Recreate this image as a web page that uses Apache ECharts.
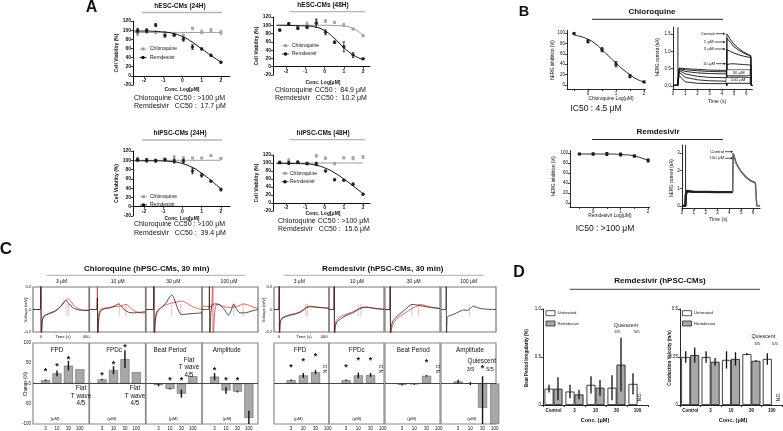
<!DOCTYPE html>
<html>
<head>
<meta charset="utf-8">
<script src="https://cdn.jsdelivr.net/npm/echarts@6.0.0/dist/echarts.min.js"></script>
<style>html,body{margin:0;padding:0;background:#fff;}#chart{width:783px;height:431px;}</style>
</head>
<body>
<div id="chart"></div>
<script>
// ================= DATA =================
// ---- Panel A : cell viability ----
const logConc = [-2.33,-1.86,-1.39,-0.91,-0.43,0.05,0.52,1.00,1.48,2.00];
const fitLog  = [-2.5,-2,-1.5,-1,-0.5,0,0.5,1,1.5,2];
const aTickLabels = [-2,-1,0,1,2];
const aTitles = ['hESC-CMs (24H)','hESC-CMs (48H)','hiPSC-CMs (24H)','hiPSC-CMs (48H)'];
const aCqText  = ['Chloroquine CC50 : >100 μM','Chloroquine CC50 :  84.9 μM','Chloroquine CC50 : >100 μM','Chloroquine CC50 : >100 μM'];
const aRdvText = ['Remdesivir   CC50 :  17.7 μM','Remdesivir   CC50 :  10.2 μM','Remdesivir   CC50 :  39.4 μM','Remdesivir   CC50 :  15.6 μM'];

const hesc24Cq     = [93,97,95,93,92,88,104,96,100,95];
const hesc24CqErr  = [5,4,3,4,3,4,2,4,4,5];
const hesc24Rdv    = [99,99,111,88,89,80,63,59,45,30];
const hesc24RdvErr = [5,4,3,3,2,4,5,2,2,2];
const hesc24CqFit  = [95,95,95,95,95,95,95,95,95,95];
const hesc24RdvFit = [98,98,97.5,96,93,86,74,59,44,30];

const hesc48Cq     = [90,103,95,103,108,110,107,101,91,75];
const hesc48CqErr  = [2,3,3,5,6,3,2,4,2,2];
const hesc48Rdv    = [88,104,93,95,105,83,59,48,28,19];
const hesc48RdvErr = [2,2,3,3,10,6,3,12,6,1];
const hesc48CqFit  = [100,100,100,100,100,100,99.5,98,92,76];
const hesc48RdvFit = [100,100,99,98.5,96,87,69,46,28,17];

const hipsc24Cq     = [104,100,100,103,106,104,105,105,110,104];
const hipsc24CqErr  = [3,3,2,2,4,4,1,1,1,1];
const hipsc24Rdv    = [101,100,99,101,98,98,77,68,55,37];
const hipsc24RdvErr = [3,4,3,2,4,4,6,4,1,3];
const hipsc24CqFit  = [100,100,100,100,100,100,100,100,100,100];
const hipsc24RdvFit = [99,99,99,98.5,97,93,85,72,56,38];

const hipsc48Cq     = [100,106,103,100,118,112,98,113,112,115];
const hipsc48CqErr  = [2,5,2,2,3,3,1,2,4,3];
const hipsc48Rdv    = [102,100,102,98,98,80,58,57,47,22];
const hipsc48RdvErr = [2,4,2,2,4,2,2,2,3,2];
const hipsc48CqFit  = [100,100,100,100,100,100,100,100,100,100];
const hipsc48RdvFit = [99,99,98.5,98,95,88,76,60,42,23];

// ---- Panel B : hERG ----
const hergLog    = [-0.5,0,0.5,1,1.5,2];
const hergCq     = [99,84,68,40,17,6];
const hergCqErr  = [1,3,4,5,3,1];
const hergCqFitX = [-0.5,-0.25,0,0.25,0.5,0.75,1,1.25,1.5,1.75,2];
const hergCqFit  = [96,93,88,80,68,55,42,30,20,11,6];
const hergRdv    = [98,98,98,97,94,85];
const hergRdvErr = [1,2,3,3,2,3];
const hergXTicks = [0,1,2];
const hergYTicks = [0,20,40,60,80,100];

const cqStepT = [0.5,1,2,3,4.38];
const cqTailT = [4.42,4.7,5.0,5.4,5.8,6.2,6.38];
const cqTraceNames = ['Control','1 μM','3 μM','10 μM','30 μM','100 μM'];
const cqStepI = [[0.52,0.50,0.48,0.46,0.45],[0.50,0.47,0.44,0.42,0.41],[0.48,0.42,0.38,0.36,0.35],[0.45,0.35,0.28,0.25,0.24],[0.40,0.25,0.18,0.15,0.14],[0.30,0.12,0.08,0.07,0.07]];
const cqTailI = [[1.50,1.35,1.20,1.08,0.98,0.91,0.88],[1.38,1.26,1.13,1.03,0.95,0.88,0.85],[1.05,1.00,0.95,0.90,0.86,0.83,0.82],[0.62,0.64,0.64,0.63,0.62,0.61,0.60],[0.25,0.26,0.26,0.26,0.26,0.25,0.25],[0.08,0.08,0.08,0.08,0.08,0.08,0.08]];
const cqArtifact = [[0.4,0,1.7]];

const rdvStepT = [0.4,1,2,3,4.28];
const rdvTailT = [4.32,4.6,5.0,5.4,5.8,6.2,6.3];
const rdvTraceNames = ['Control','100 μM'];
const rdvStepI = [[0.85,0.80,0.80,0.79,0.79],[0.84,0.79,0.79,0.78,0.78]];
const rdvTailI = [[3.00,2.40,1.95,1.65,1.45,1.32,1.27],[2.95,2.36,1.92,1.62,1.42,1.29,1.24]];
const rdvArtifact = [[0.3,0,3.45]];

// ---- Panel C : MEA ----
const cConcLabels = ['3 μM','10 μM','30 μM','100 μM'];
const cCats = ['3','10','30','100'];
const cqTraceBlack = [
 [[-70,0],[-5,0],[0,0.3],[4,-0.3],[12,-0.1],[30,-0.06],[80,-0.035],[120,-0.02],[150,0],[180,0.03],[205,0.065],[225,0.08],[250,0.05],[280,0.02],[320,0.0],[380,-0.008],[430,-0.01]],
 [[-70,0],[-5,0],[0,0.1],[4,-0.3],[10,-0.12],[25,-0.02],[60,0.005],[120,0.015],[160,0.035],[190,0.05],[215,0.03],[245,-0.005],[280,-0.025],[320,-0.03],[380,-0.025],[430,-0.02]],
 [[-70,0],[-5,0],[0,0.3],[4,-0.3],[12,-0.12],[30,-0.02],[70,0.02],[110,0.06],[140,0.11],[160,0.13],[180,0.1],[205,0.03],[230,-0.03],[255,-0.045],[300,-0.04],[360,-0.035],[430,-0.03]],
 [[-70,0],[-8,0],[-4,0.3],[0,-0.3],[8,-0.05],[20,0.04],[50,0.05],[90,0.04],[130,0.0],[165,-0.05],[190,-0.01],[213,0.05],[235,0.01],[270,-0.03],[310,-0.03],[370,-0.015],[430,0.0]]
];
const cqTraceRed = [
 [[-70,0],[-5,0],[0,0.3],[4,-0.3],[12,-0.1],[30,-0.055],[80,-0.03],[120,-0.015],[150,0.005],[190,0.04],[220,0.08],[245,0.095],[270,0.07],[300,0.03],[340,0.005],[390,-0.005],[430,-0.005]],
 [[-70,0],[-5,0],[0,0.3],[4,-0.3],[10,-0.06],[30,0.0],[80,0.015],[140,0.025],[200,0.03],[235,0.04],[255,0.045],[280,0.03],[310,0.0],[350,-0.02],[400,-0.03],[430,-0.03]],
 [[-70,0],[-5,0],[0,0.3],[4,-0.3],[12,-0.08],[30,-0.01],[70,0.02],[120,0.045],[170,0.06],[220,0.07],[250,0.075],[280,0.065],[320,0.04],[370,0.015],[430,0.0]],
 [[-70,0.03],[10,0.025],[25,0.3],[30,-0.3],[38,-0.1],[50,0.02],[65,0.05],[100,0.035],[150,0.02],[200,0.02],[250,0.03],[297,0.05],[340,0.04],[390,0.02],[430,0.01]]
];
const cqMarkBlack = [225,196,160,213];
const cqMarkRed   = [245,255,240,297];

const rdvTraceBlack = [
 [[-45,0],[-3,0],[0,0.3],[3,-0.3],[8,-0.12],[25,-0.08],[80,-0.055],[140,-0.04],[180,-0.025],[215,0.0],[240,0.02],[270,0.025],[320,0.02],[380,0.015],[430,0.01]],
 [[-45,0],[-3,0],[0,0.3],[3,-0.3],[8,-0.16],[25,-0.11],[60,-0.08],[110,-0.05],[160,-0.03],[200,-0.005],[240,0.015],[280,0.02],[330,0.012],[380,0.005],[430,0.0]],
 [[-45,0],[-3,0],[0,0.3],[3,-0.3],[8,-0.16],[25,-0.1],[60,-0.06],[100,-0.025],[140,0.01],[175,0.04],[200,0.045],[240,0.038],[290,0.028],[350,0.018],[430,0.008]],
 [[-45,0],[-3,0],[0,0.3],[3,-0.3],[8,-0.07],[30,-0.055],[70,-0.04],[110,-0.02],[150,-0.005],[180,-0.008],[210,0.01],[235,0.03],[260,0.02],[300,0.008],[360,0.002],[430,0.0]]
];
const rdvTraceRed = [
 [[-45,0],[-3,0],[0,0.3],[3,-0.3],[8,-0.11],[25,-0.075],[80,-0.05],[140,-0.035],[180,-0.02],[215,0.005],[245,0.025],[275,0.028],[320,0.022],[380,0.017],[430,0.012]],
 [[-45,0],[-3,0],[0,0.3],[3,-0.3],[8,-0.13],[25,-0.09],[60,-0.06],[110,-0.04],[160,-0.02],[200,0.0],[240,0.02],[280,0.022],[330,0.015],[380,0.008],[430,0.003]],
 [[-45,0],[-3,0],[0,0.3],[3,-0.3],[8,-0.19],[25,-0.13],[60,-0.08],[100,-0.05],[150,-0.015],[200,0.015],[240,0.035],[265,0.045],[300,0.035],[360,0.02],[430,0.01]],
 null
];
const rdvMarkBlack = [228,207,187,200];
const rdvMarkRed   = [243,231,246,null];

const cBarTitles = ['FPD','FPDc','Beat Period','Amplitude'];
const cqBars = [[8,25,44,35],[10,33,60,28],[-4,-13,-25,18],[17,-17,-20,-85]];
const cqErrs = [[2,7,12,0],[2,10,22,0],[3,2,10,0],[9,8,2,18]];
const cqStars = [[34,46,63,null],[24,52,95,null],[null,12,12,null],[36,12,12,null]];
const rdvBars = [[8,20,28,null],[8,20,21,null],[-3,-2,19,null],[5,0,-60,-100]];
const rdvErrs = [[2,6,5,0],[2,7,5,0],[2,1,2,0],[4,4,78,0]];
const rdvStars = [[44,58,71,null],[44,61,61,null],[null,null,56,null],[null,null,41,null]];

// ---- Panel D ----
const dCats = ['Control','3','10','30','100'];
const bpiUntreated    = [0.17,0.14,0.21,0.18,0.22];
const bpiUntreatedErr = [0.04,0.07,0.09,0.13,0.11];
const bpiRdv          = [0.17,0.11,0.18,0.42,null];
const bpiRdvErr       = [0.12,0.05,0.08,0.28,null];
const cvUntreated     = [0.25,0.25,0.235,0.265,0.24];
const cvUntreatedErr  = [0.03,0.03,0.045,0.006,0.03];
const cvRdv           = [0.26,0.225,0.24,0.23,null];
const cvRdvErr        = [0.04,0.02,0.035,0.004,null];

// ================= BUILD =================
const F = "'Liberation Sans', Arial, Helvetica, sans-serif";
const grids=[], xAxes=[], yAxes=[], series=[], G=[];
const PI2 = Math.PI/2;
function addPanel(g, xa, ya){ const i=grids.length; grids.push(g); xa.gridIndex=i; ya.gridIndex=i; xAxes.push(xa); yAxes.push(ya); return i; }
function txt(x,y,s,o){ o=o||{}; G.push({type:'text', x:x, y:y, rotation:o.rot||0, z:50, silent:true,
  style:{text:s, fill:o.color||'#111', fontSize:o.size||6, fontWeight:o.bold?'bold':'normal', fontFamily:F,
  textAlign:o.align||'center', textVerticalAlign:'middle', verticalAlign:'middle'}}); }
function seg(x1,y1,x2,y2,c,w){ G.push({type:'line', z:50, silent:true, shape:{x1:x1,y1:y1,x2:x2,y2:y2}, style:{stroke:c||'#111', lineWidth:w||1}}); }
function rect(x,y,w,h,fill,stroke,lw){ G.push({type:'rect', z:50, silent:true, shape:{x:x,y:y,width:w,height:h}, style:{fill:fill, stroke:stroke||'#111', lineWidth:lw||0.8}}); }
function dot(cx,cy,r,fill){ G.push({type:'circle', z:50, silent:true, shape:{cx:cx,cy:cy,r:r}, style:{fill:fill}}); }
function arrow(x1,x2,y){ seg(x1,y,x2-1.5,y,'#111',0.7); G.push({type:'polygon', z:50, silent:true, shape:{points:[[x2,y],[x2-2.2,y-1.3],[x2-2.2,y+1.3]]}, style:{fill:'#111'}}); }

function axLine(show, w){ return {show:show!==false, onZero:false, lineStyle:{color:'#111', width:w||1}}; }
function axTick(show, vals, len){ return {show:show!==false, length:len||2, customValues:vals||undefined, lineStyle:{color:'#111', width:0.8}}; }
function axLab(show, size, vals, fmt, bold, margin){ const o={show:show!==false, fontSize:size||5, fontFamily:F, color:'#111', fontWeight:bold?'bold':'normal', margin:margin==null?2:margin}; if(vals) o.customValues=vals; if(fmt) o.formatter=fmt; return o; }
const noSplit = {show:false};
const pairs = (xs, ys) => xs.map((x,k)=>[x, ys[k]]).filter(d=>d[1]!=null);

function lineS(i, data, color, width, smooth, z){ series.push({type:'line', xAxisIndex:i, yAxisIndex:i, data:data, symbol:'none', showSymbol:false, smooth:smooth||false, lineStyle:{color:color, width:width}, silent:true, z:z||2, clip:true}); }
function dotS(i, data, symbol, size, color, z){ series.push({type:'scatter', xAxisIndex:i, yAxisIndex:i, data:data, symbol:symbol, symbolSize:size, itemStyle:{color:color}, silent:true, z:z||4}); }
function errS(i, data, color, width, cap, offset, z){
  series.push({type:'custom', xAxisIndex:i, yAxisIndex:i, data:data, silent:true, z:z||3,
    renderItem:function(p, api){
      const x=api.value(0), a=api.coord([x, api.value(1)]), b=api.coord([x, api.value(2)]);
      const cx=a[0]+(offset||0);
      const ch=[{type:'line', shape:{x1:cx,y1:a[1],x2:cx,y2:b[1]}, style:{stroke:color, lineWidth:width}}];
      if(cap){ ch.push({type:'line', shape:{x1:cx-cap,y1:a[1],x2:cx+cap,y2:a[1]}, style:{stroke:color,lineWidth:width}});
               ch.push({type:'line', shape:{x1:cx-cap,y1:b[1],x2:cx+cap,y2:b[1]}, style:{stroke:color,lineWidth:width}}); }
      return {type:'group', children:ch};
    }});
}
function starS(i, data){
  series.push({type:'custom', xAxisIndex:i, yAxisIndex:i, data:data, silent:true, z:6,
    renderItem:function(p, api){ const c=api.coord([api.value(0), api.value(1)]);
      return {type:'text', x:c[0], y:c[1]+2, style:{text:'*', fontSize:9, fontWeight:'bold', fontFamily:F, fill:'#111', textAlign:'center', textVerticalAlign:'middle', verticalAlign:'middle'}}; }});
}
const nameStyle = (s,b)=>({fontSize:s, fontWeight:b?'bold':'normal', fontFamily:F, color:'#111'});

// ---------- Panel A ----------
txt(91.5, 8, 'A', {size:16, bold:true});
const aLayout = [
 {left:133, top:21, width:97, height:64, xmin:-2.57, xmax:2.47, tx:180, ty:6, ul:[142,222,12.5], lx:134, ly:[98,106.3], lg:[143,150,49,57.5], nx:182, ny:90},
 {left:273, top:17, width:97, height:58, xmin:-2.68, xmax:2.36, tx:323, ty:5.5, ul:[290,365,11.7], lx:275, ly:[90,98.3], lg:[285.5,292,45.7,54], nx:323, ny:82.5},
 {left:133, top:151, width:97, height:65, xmin:-2.57, xmax:2.47, tx:180, ty:133.3, ul:[142,222,140], lx:134, ly:[224.3,232.7], lg:[143.5,150,196.7,205], nx:182, ny:219},
 {left:273, top:155, width:97, height:56, xmin:-2.68, xmax:2.36, tx:323, ty:133, ul:[290,365,139.7], lx:278, ly:[221,229.3], lg:[285,290,173.3,181.7], nx:323, ny:214}
];
const aSets = [
 {cq:hesc24Cq, cqE:hesc24CqErr, rdv:hesc24Rdv, rdvE:hesc24RdvErr, cqFit:hesc24CqFit, rdvFit:hesc24RdvFit},
 {cq:hesc48Cq, cqE:hesc48CqErr, rdv:hesc48Rdv, rdvE:hesc48RdvErr, cqFit:hesc48CqFit, rdvFit:hesc48RdvFit},
 {cq:hipsc24Cq, cqE:hipsc24CqErr, rdv:hipsc24Rdv, rdvE:hipsc24RdvErr, cqFit:hipsc24CqFit, rdvFit:hipsc24RdvFit},
 {cq:hipsc48Cq, cqE:hipsc48CqErr, rdv:hipsc48Rdv, rdvE:hipsc48RdvErr, cqFit:hipsc48CqFit, rdvFit:hipsc48RdvFit}
];
const GREY='#9a9a9a';
aLayout.forEach(function(L,k){
  const d=aSets[k];
  const zeroOffset = -20 * L.height / 140;   // x axis crosses the y axis at 0
  const i=addPanel({left:L.left, top:L.top, width:L.width, height:L.height},
    {type:'value', min:L.xmin, max:L.xmax, offset:zeroOffset, axisLine:{show:true, onZero:false, lineStyle:{color:'#111', width:1}},
     axisTick:axTick(true, aTickLabels, 2), axisLabel:axLab(true, 5, aTickLabels, null, true, 2.5), splitLine:noSplit},
    {type:'value', min:-20, max:120, interval:20, axisLine:axLine(true,1), axisTick:axTick(true,null,2),
     axisLabel:axLab(true,5,null,null,true,2), splitLine:noSplit,
     name:'Cell Viability (%)', nameLocation:'middle', nameGap:10, nameRotate:90, nameTextStyle:nameStyle(5,true)});
  lineS(i, pairs(fitLog, d.cqFit), GREY, 1, true, 2);
  errS(i, logConc.map((x,j)=>[x, d.cq[j]-d.cqE[j], d.cq[j]+d.cqE[j]]), GREY, 0.8, 1.2, 0, 3);
  dotS(i, pairs(logConc, d.cq), 'rect', 3, GREY, 4);
  lineS(i, pairs(fitLog, d.rdvFit), '#111', 1, true, 5);
  errS(i, logConc.map((x,j)=>[x, d.rdv[j]-d.rdvE[j], d.rdv[j]+d.rdvE[j]]), '#111', 0.8, 1.2, 0, 6);
  dotS(i, pairs(logConc, d.rdv), 'circle', 3.5, '#111', 7);
  txt(L.tx, L.ty, aTitles[k], {size:6.5, bold:true});
  seg(L.ul[0], L.ul[2], L.ul[1], L.ul[2], '#b5b5b5', 1.3);
  txt(L.nx, L.ny, 'Conc. Log[μM]', {size:5, bold:true});
  txt(L.lx, L.ly[0], aCqText[k], {size:7, align:'left'});
  txt(L.lx, L.ly[1], aRdvText[k], {size:7, align:'left'});
  const sx=L.lg[0], tx=L.lg[1];
  seg(sx-3.5, L.lg[2], sx+3.5, L.lg[2], GREY, 0.8); rect(sx-1.4, L.lg[2]-1.4, 2.8, 2.8, GREY, GREY, 0.1);
  txt(tx, L.lg[2], 'Chloroquine', {size:5, align:'left'});
  seg(sx-3.5, L.lg[3], sx+3.5, L.lg[3], '#111', 0.8); dot(sx, L.lg[3], 1.7, '#111');
  txt(tx, L.lg[3], 'Remdesivir', {size:5, align:'left'});
});

// ---------- Panel B ----------
txt(524, 12.3, 'B', {size:14.5, bold:true});
txt(652, 12, 'Chloroquine', {size:8, bold:true}); seg(592,19.3,723,19.3,'#222',1);
txt(658, 131.7, 'Remdesivir', {size:8, bold:true}); seg(592,139.5,723,139.5,'#222',1);

function hergInhPanel(box, xmin, d, e, fit){
  const i=addPanel(box,
    {type:'value', min:xmin, max:2.05, axisLine:axLine(true,0.9), axisTick:axTick(true,[-0.5,0,0.5,1,1.5,2],2),
     axisLabel:axLab(true,4.5,hergXTicks,null,false,2), splitLine:noSplit},
    {type:'value', min:-8, max:105, axisLine:axLine(true,0.9), axisTick:axTick(true,hergYTicks,2),
     axisLabel:axLab(true,4.5,hergYTicks,null,false,2), splitLine:noSplit});
  lineS(i, fit, '#111', 0.9, true, 2);
  errS(i, hergLog.map((x,j)=>[x, d[j]-e[j], d[j]+e[j]]), '#111', 0.9, 1.2, 0, 3);
  dotS(i, pairs(hergLog, d), 'rect', 3.2, '#111', 4);
  return i;
}
hergInhPanel({left:567, top:30.4, width:78.4, height:58.8}, -0.75, hergCq, hergCqErr, pairs(hergCqFitX, hergCqFit));
hergInhPanel({left:570, top:150.5, width:79.5, height:56.5}, -0.84, hergRdv, hergRdvErr, pairs(hergLog, hergRdv));

txt(552.5, 60, 'hERG inhibition (%)', {size:4.5, rot:PI2});
txt(611, 98.3, 'Chloroquine Log(μM)', {size:4.8});
txt(596, 108.7, 'IC50 : 4.5 μM', {size:8.5});
txt(553.5, 176, 'hERG inhibition (%)', {size:4.5, rot:PI2});
txt(610, 216, 'Remdesivir Log(μM)', {size:4.8});
txt(605, 228.3, 'IC50 : >100 μM', {size:8.5});

const timeTicks=[0,1,2,3,4,5,6];
const iBC = addPanel({left:672.8, top:27.1, width:79.5, height:61.7},
  {type:'value', min:-0.02, max:6.5, axisLine:axLine(true,0.9), axisTick:axTick(true,timeTicks,2), axisLabel:axLab(true,4.5,timeTicks,null,false,2), splitLine:noSplit},
  {type:'value', min:-0.08, max:1.7, axisLine:axLine(true,0.9), axisTick:axTick(true,[0,0.5,1,1.5],2), axisLabel:axLab(true,4.5,[0,0.5,1,1.5],v=>Number(v).toFixed(1),false,2), splitLine:noSplit});
cqStepI.forEach(function(s,k){
  const pts=[[0,0.02],[0.38,0.02]].concat(pairs(cqStepT,s),[[4.4,0.02]],pairs(cqTailT,cqTailI[k]),[[6.42,0.02],[6.5,0.02]]);
  lineS(iBC, pts, '#111', 0.9, false, 3);
});
errS(iBC, cqArtifact, '#111', 0.9, 0, 0, 3);
txt(657.3, 57, 'hERG current (nA)', {size:4.5, rot:PI2});
txt(717, 101.7, 'Time (s)', {size:5});
txt(714.5, 33.7, cqTraceNames[0], {size:4.3, align:'right'}); arrow(715.5, 725.5, 33.7);
txt(713.5, 42, cqTraceNames[1], {size:4.3, align:'right'}); arrow(714.5, 725.5, 42);
txt(713.5, 49, cqTraceNames[2], {size:4.3, align:'right'}); arrow(714.5, 725.5, 49);
txt(715, 63.7, cqTraceNames[3], {size:4.3, align:'right'}); arrow(716, 726, 63.7);
rect(727, 69.7, 23, 5.8, '#fff', '#111', 0.6); txt(738.5, 72.6, cqTraceNames[4], {size:4.3});
rect(726, 77.4, 24, 5.8, '#fff', '#111', 0.6); txt(738, 80.3, cqTraceNames[5], {size:4.3});

const iBR = addPanel({left:681.8, top:145, width:78.3, height:63.6},
  {type:'value', min:-0.02, max:6.6, axisLine:axLine(true,0.9), axisTick:axTick(true,timeTicks,2), axisLabel:axLab(true,4.5,timeTicks,null,false,2), splitLine:noSplit},
  {type:'value', min:-0.15, max:3.45, axisLine:axLine(true,0.9), axisTick:axTick(true,[0,1,2,3],2), axisLabel:axLab(true,4.5,[0,1,2,3],null,false,2), splitLine:noSplit});
rdvStepI.forEach(function(s,k){
  lineS(iBR, [[0,0],[0.28,0],[0.32,0.6]].concat(pairs(rdvStepT,s)), '#222', 2.2, false, 3);
  lineS(iBR, [[4.28,s[4]]].concat(pairs(rdvTailT, rdvTailI[k]),[[6.32,0.0],[6.6,0.0]]), '#666', 1.3, false, 3);
});
errS(iBR, rdvArtifact, '#111', 0.9, 0, 0, 3);
txt(671.5, 178, 'hERG current (nA)', {size:4.5, rot:PI2});
txt(718.3, 220, 'Time (s)', {size:5});
txt(724, 151.7, rdvTraceNames[0], {size:4.3, align:'right'}); arrow(725, 733, 151.7);
txt(724, 158.3, rdvTraceNames[1], {size:4.3, align:'right'}); arrow(725, 733, 158.3);

// ---------- Panel C ----------
txt(6, 249.5, 'C', {size:17, bold:true});
const cGroups = [
 {xs:[33,89.5,146,202], w:56, tmin:-70, tmax:430, bmin:-0.1, bmax:4.8, black:cqTraceBlack, red:cqTraceRed, mb:cqMarkBlack, mr:cqMarkRed,
  bars:cqBars, errs:cqErrs, stars:cqStars, yLabels:true,
  title:'Chloroquine (hPSC-CMs, 30 min)', tx:146.7, ul:[46.7,245], lab:[61.5,117.7,173.3,229],
  bt:[57,114,170,226.7], um:[55,111.7,173.3,227], timeX:[41,63,86]},
 {xs:[274,329,385,441], w:55, tmin:-45, tmax:430, bmin:-0.4, bmax:4.1, black:rdvTraceBlack, red:rdvTraceRed, mb:rdvMarkBlack, mr:rdvMarkRed,
  bars:rdvBars, errs:rdvErrs, stars:rdvStars, yLabels:false,
  title:'Remdesivir (hPSC-CMs, 30 min)', tx:382.8, ul:[283.7,483.7], lab:[299.3,357,413.7,468.7],
  bt:[300,356.7,413.3,470], um:[298.3,356.7,411.7,471.7], timeX:[279,304,324]}
];
const zeroFmt = v => (Math.abs(v)<1e-9 ? '0' : String(v));
cGroups.forEach(function(g, gi){
  txt(g.tx, 268.3, g.title, {size:8, bold:true});
  seg(g.ul[0], 275.3, g.ul[1], 275.3, '#bdbdbd', 1.3);
  for(let k=0;k<4;k++){
    const x=g.xs[k];
    txt(g.lab[k], 281.7, cConcLabels[k], {size:5});
    const iT = addPanel({left:x, top:287, width:g.w, height:45, show:true, borderColor:'#7a7a7a', borderWidth:1.2},
      {type:'value', min:g.tmin, max:g.tmax, show:false, splitLine:noSplit},
      {type:'value', min:-0.2, max:0.2, show:k===0, axisLine:{show:false}, axisTick:{show:false},
       axisLabel:axLab(true,4.3,[-0.2,0,0.2],zeroFmt,false,1.5), splitLine:noSplit});
    if(g.mb[k]!=null) errS(iT, [[g.mb[k],-0.06,0.05]], '#c9c9c9', 0.9, 0, 0, 2);
    if(g.mr[k]!=null) errS(iT, [[g.mr[k],-0.06,0.05]], '#f2a9a9', 0.9, 0, 0, 2);
    if(g.red[k]) lineS(iT, g.red[k], '#e53935', 0.8, 0.25, 3);
    lineS(iT, g.black[k], '#222', 0.8, 0.25, 4);
    const iB = addPanel({left:x, top:343, width:g.w, height:82, show:true, borderColor:'#8a8a8a', borderWidth:1.2},
      {type:'value', min:g.bmin, max:g.bmax, axisLine:{show:false}, axisTick:{show:false},
       axisLabel:axLab(true,4.5,[1,2,3,4],v=>cCats[Math.round(v)-1],false,2), splitLine:noSplit},
      {type:'value', min:-100, max:100, interval:50, show:(g.yLabels && k===0), axisLine:{show:false}, axisTick:{show:false},
       axisLabel:axLab(true,4.5,null,null,false,2), splitLine:noSplit});
    series.push({type:'bar', xAxisIndex:iB, yAxisIndex:iB, data:pairs([1,2,3,4], g.bars[k]), barWidth:9,
      itemStyle:{color:'#a8a8a8', borderColor:'#555', borderWidth:0.5}, silent:true, z:2,
      markLine:{silent:true, symbol:'none', label:{show:false}, lineStyle:{color:'#333', width:0.9, type:'solid'}, data:[{yAxis:0}]}});
    errS(iB, [1,2,3,4].map((c,j)=>[c, g.bars[k][j], g.errs[k][j]]).filter(d=>d[1]!=null && d[2]>0)
          .map(d=>[d[0], Math.max(-100,d[1]-d[2]), Math.min(100,d[1]+d[2])]), '#111', 1.4, 0, 0, 4);
    starS(iB, pairs([1,2,3,4], g.stars[k]));
    txt(g.bt[k], 350, cBarTitles[k], {size:6.3});
    txt(g.um[k], 419, '(μM)', {size:4.3});
  }
  txt(g.timeX[0], 336.5, '0', {size:4.3}); txt(g.timeX[1], 336.5, 'Time (s)', {size:4.3}); txt(g.timeX[2], 336.5, '400', {size:4.3});
});
txt(26, 310, 'Voltage (mV)', {size:4.3, rot:PI2});
txt(26, 384, 'Change (%)', {size:4.5, rot:PI2});
txt(264, 310, 'Voltage (mV)', {size:4.3, rot:PI2});
[['Flat',388.3],['T wave',396],['4/5',403.3]].forEach(a=>{ txt(81, a[1], a[0], {size:6.3}); txt(135, a[1], a[0], {size:6.3}); });
[['Flat',360],['T wave',367.5],['4/5',375.5]].forEach(a=>txt(189, a[1], a[0], {size:6.3}));
txt(326, 368.3, 'N.D.', {size:5, rot:PI2});
txt(381.7, 368.3, 'N.D.', {size:5, rot:PI2});
txt(438.3, 368.3, 'N.D.', {size:5, rot:PI2});
txt(481.7, 361, 'Quiescent', {size:6.3});
txt(470.5, 369.3, '3/5', {size:5.3});
txt(490, 369.3, '5/5', {size:5.3});

// ---------- Panel D ----------
txt(519, 272.5, 'D', {size:16, bold:true});
txt(660, 281, 'Remdesivir (hPSC-CMs)', {size:8, bold:true});
seg(570, 289.3, 760, 289.3, '#444', 1);
function dPanel(box, ymax, yint, fmt, u, ue, r, re){
  const lab = axLab(true,4.5,null,null,true,3); lab.interval = 0;
  const i=addPanel(box,
    {type:'category', data:dCats, axisLine:axLine(true,0.9), axisTick:{show:true, length:2, interval:0, lineStyle:{color:'#111', width:0.8}},
     axisLabel:lab, splitLine:noSplit},
    {type:'value', min:0, max:ymax, interval:yint, axisLine:axLine(true,0.9), axisTick:axTick(true,null,2),
     axisLabel:axLab(true,4.5,null,fmt,false,2), splitLine:noSplit});
  series.push({type:'bar', name:'Untreated', xAxisIndex:i, yAxisIndex:i, data:u, barWidth:9, barGap:'0%',
    itemStyle:{color:'#ffffff', borderColor:'#111', borderWidth:0.8}, silent:true, z:2});
  series.push({type:'bar', name:'Remdesivir', xAxisIndex:i, yAxisIndex:i, data:r, barWidth:9, barGap:'0%',
    itemStyle:{color:'#a8a8a8', borderColor:'#111', borderWidth:0.8}, silent:true, z:2});
  errS(i, u.map((v,j)=>[j, v-ue[j], v+ue[j]]), '#111', 1.3, 0, -4.5, 4);
  errS(i, r.map((v,j)=>[j, v, re[j]]).filter(d=>d[1]!=null).map(d=>[d[0], d[1]-d[2], d[1]+d[2]]), '#111', 1.3, 0, 4.5, 4);
}
dPanel({left:543, top:309, width:105, height:96}, 1, 0.5, v=>(v===0?'0':Number(v).toFixed(1)), bpiUntreated, bpiUntreatedErr, bpiRdv, bpiRdvErr);
dPanel({left:680, top:309, width:102, height:96}, 0.5, 0.25, v=>(v===0?'0':String(v)), cvUntreated, cvUntreatedErr, cvRdv, cvRdvErr);
txt(527, 358, 'Beat Period Irregularity (%)', {size:4.5, bold:true, rot:PI2});
txt(670, 358, 'Conduction Velocity (m/s)', {size:4.5, bold:true, rot:PI2});
txt(595, 420.3, 'Conc. (μM)', {size:5.5, bold:true});
txt(733, 420.3, 'Conc. (μM)', {size:5.5, bold:true});
[[546,557.5],[682.5,694]].forEach(p=>{
  rect(p[0], 310.7, 9, 5, '#fff', '#111', 0.7); txt(p[1], 313.2, 'Untreated', {size:4.3, align:'left'});
  rect(p[0], 321, 9, 5, '#a8a8a8', '#111', 0.7); txt(p[1], 323.5, 'Remdesivir', {size:4.3, align:'left'});
});
txt(626, 325.7, 'Quiescent', {size:5.3}); txt(617.3, 332.3, '3/5', {size:4.3}); txt(636.7, 332.3, '5/5', {size:4.3});
txt(763.3, 336.7, 'Quiescent', {size:5.3}); txt(757.3, 344, '3/5', {size:4.3}); txt(775, 344, '5/5', {size:4.3});
txt(640, 396.7, 'N.D.', {size:4.5, rot:PI2});
txt(778.3, 396.7, 'N.D.', {size:4.5, rot:PI2});

// ================= RENDER =================
const chart = echarts.init(document.getElementById('chart'), null, {renderer:'canvas'});
chart.setOption({
  animation:false, backgroundColor:'#ffffff', textStyle:{fontFamily:F},
  grid:grids, xAxis:xAxes, yAxis:yAxes, series:series, graphic:{elements:G}
});
</script>
</body>
</html>
